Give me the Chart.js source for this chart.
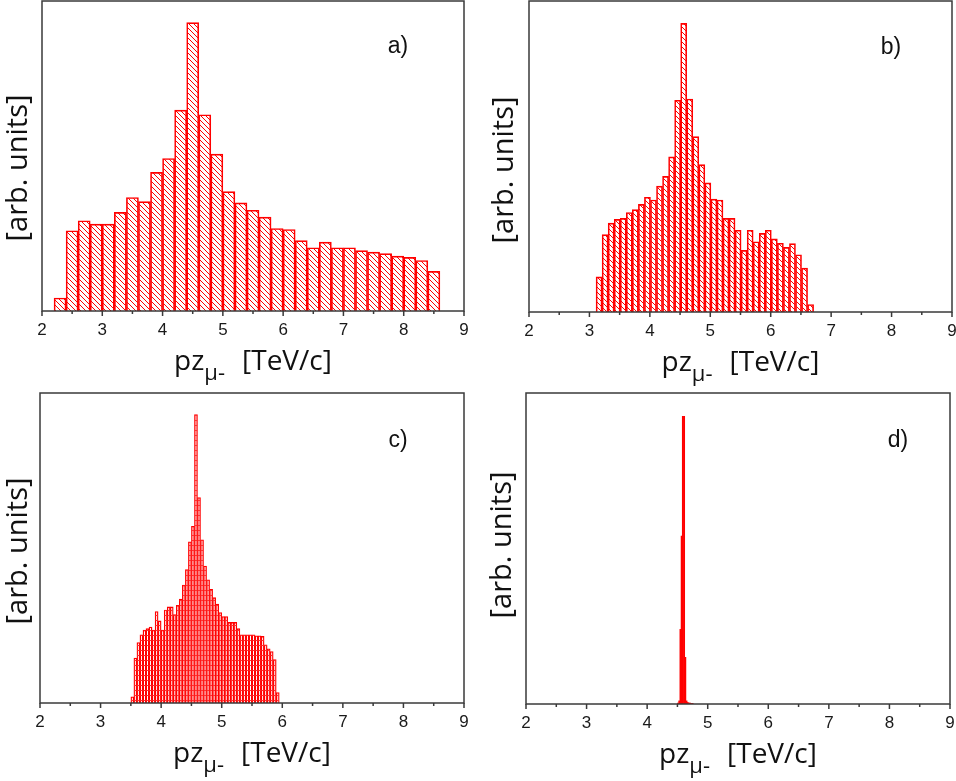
<!DOCTYPE html>
<html>
<head>
<meta charset="utf-8">
<script src="https://cdn.jsdelivr.net/npm/chart.js@4.4.0/dist/chart.umd.min.js"></script>
<style>
  html, body { margin: 0; padding: 0; background: #fff; }
  #wrap { position: relative; width: 956px; height: 781px; }
  #wrap canvas { position: absolute; left: 0; top: 0; }
</style>
</head>
<body>
<div id="wrap">
  <canvas id="chartA" width="956" height="781"></canvas>
  <canvas id="chartB" width="956" height="781"></canvas>
  <canvas id="chartC" width="956" height="781"></canvas>
  <canvas id="chartD" width="956" height="781"></canvas>
</div>
<script>
// pz of the mu- in TeV/c, histogram heights in arbitrary units (axis top = 100)
const xTicks = [2, 3, 4, 5, 6, 7, 8, 9];
const xMinorTicks = [2.5, 3.5, 4.5, 5.5, 6.5, 7.5, 8.5];

// a) bins of 0.2 starting at 2.2
const aStart = 2.2, aWidth = 0.2;
const aCounts = [4.2, 25.9, 29.1, 28.0, 28.0, 31.8, 36.6, 35.3, 44.7, 49.2, 64.8, 93.0,
  63.3, 50.6, 38.5, 34.9, 32.5, 30.3, 26.6, 26.3, 22.7, 20.4, 22.2, 20.4, 20.4, 19.5,
  19.0, 18.5, 17.7, 17.3, 16.3, 12.8];

// b) bins of 0.1 starting at 3.11
const bStart = 3.11, bWidth = 0.1;
const bCounts = [11.3, 24.9, 28.6, 29.8, 30.1, 32.0, 32.9, 34.6, 36.9, 36.0, 40.5, 43.6,
  49.9, 68.1, 92.8, 68.5, 56.4, 47.4, 41.5, 36.3, 36.0, 30.1, 30.1, 26.3, 19.8, 26.3,
  22.6, 25.3, 26.3, 23.5, 22.1, 20.8, 22.0, 18.4, 14.1, 2.4];

// c) bins of 0.05 starting at 3.5
const cStart = 3.5, cWidth = 0.05;
const cCounts = [2, 14.5, 19.5, 22, 23.5, 24, 24.5, 23.5, 29.5, 26.5, 23.5, 30, 31, 31,
  28.5, 31.5, 33.5, 38, 43, 52, 57, 93, 66.3, 52.6, 44.2, 39.7, 36.7, 34, 31.9, 29.2,
  27.9, 27.9, 26, 26, 26, 24, 22, 22, 22, 22, 22, 21.7, 21.7, 21.5, 18.8, 17.5, 16.6,
  14, 3.4];

// d) bins of 0.02 starting at 4.5
const dStart = 4.5, dWidth = 0.02;
const dCounts = [0.3, 1, 24, 54, 92.5, 92.5, 15, 1, 0.5, 0.3, 0.3, 0.2, 0.2];

const yTitle = '[arb. units]';
const xTitleMain = 'pz';
const xTitleSub = 'μ-';
const xTitleUnit = '[TeV/c]';

function binPoints(start, width, counts) {
  return counts.map((c, i) => ({ x: +(start + width * (i + 0.5)).toFixed(4), y: c }));
}

// hatch fills used by the bars
function diagHatch() {
  const t = document.createElement('canvas');
  t.width = 5; t.height = 5;
  const g = t.getContext('2d');
  g.strokeStyle = '#ff0000';
  g.lineWidth = 1;
  g.beginPath();
  g.moveTo(-1, -1); g.lineTo(6, 6);
  g.moveTo(-1, 4); g.lineTo(1, 6);
  g.moveTo(4, -1); g.lineTo(6, 1);
  g.stroke();
  return g.createPattern(t, 'repeat');
}

function rowHatch() {
  const t = document.createElement('canvas');
  t.width = 4; t.height = 5;
  const g = t.getContext('2d');
  g.fillStyle = '#ff3030';
  g.fillRect(0, 0, 4, 1);
  return g.createPattern(t, 'repeat');
}

const panelDecor = {
  id: 'panelDecor',
  afterDraw(chart, args, o) {
    const { ctx, chartArea: ca, scales: { x } } = chart;
    ctx.save();
    ctx.strokeStyle = '#3a3a3a';
    ctx.lineWidth = 1.5;
    ctx.beginPath();
    xTicks.forEach(v => {
      const px = x.getPixelForValue(v);
      ctx.moveTo(px, ca.bottom); ctx.lineTo(px, ca.bottom + 5);
    });
    xMinorTicks.forEach(v => {
      const px = x.getPixelForValue(v);
      ctx.moveTo(px, ca.bottom); ctx.lineTo(px, ca.bottom + 3);
    });
    ctx.stroke();
    ctx.strokeRect(ca.left, ca.top, ca.right - ca.left, ca.bottom - ca.top);

    ctx.fillStyle = '#111';
    ctx.textAlign = 'center';
    ctx.textBaseline = 'middle';
    ctx.font = '23px "Liberation Sans"';
    ctx.fillText(o.label, o.labelX, o.labelY);

    ctx.save();
    ctx.translate(o.yTitleX, o.yTitleY);
    ctx.rotate(-Math.PI / 2);
    ctx.font = '29px "Open Sans"';
    ctx.fillText(yTitle, 0, 0);
    ctx.restore();

    // x title with the muon subscript
    const mainFont = '28px "Open Sans"';
    const subFont = '22px "Open Sans"';
    ctx.textAlign = 'left';
    ctx.textBaseline = 'alphabetic';
    ctx.font = mainFont;
    const w1 = ctx.measureText(xTitleMain).width;
    const w3 = ctx.measureText(xTitleUnit).width;
    ctx.font = subFont;
    const w2 = ctx.measureText(xTitleSub).width;
    const gap = 17;
    const total = w1 + w2 + gap + w3;
    let tx = (ca.left + ca.right) / 2 - total / 2;
    const ty = ca.bottom + 59;
    ctx.font = mainFont;
    ctx.fillText(xTitleMain, tx, ty);
    tx += w1;
    ctx.font = subFont;
    ctx.fillText(xTitleSub, tx, ty + 10);
    tx += w2 + gap;
    ctx.font = mainFont;
    ctx.fillText(xTitleUnit, tx, ty);
    ctx.restore();
  }
};

function makePanel(id, points, fill, borderWidth, area, decor) {
  const xh = 40;
  return new Chart(document.getElementById(id), {
    type: 'bar',
    data: {
      datasets: [{
        data: points,
        backgroundColor: fill,
        borderColor: '#ff0000',
        borderWidth: borderWidth,
        barPercentage: 1,
        categoryPercentage: 1
      }]
    },
    options: {
      responsive: false,
      animation: false,
      layout: {
        padding: { left: area.left, top: area.top, right: 956 - area.right, bottom: 781 - area.bottom - xh }
      },
      plugins: { legend: { display: false }, tooltip: { enabled: false }, panelDecor: decor },
      scales: {
        x: {
          type: 'linear',
          min: 2, max: 9,
          offset: false,
          grid: { display: false, drawTicks: false },
          border: { display: false },
          afterBuildTicks: s => { s.ticks = xTicks.map(v => ({ value: v })); },
          afterFit: s => { s.height = xh; s.paddingLeft = 0; s.paddingRight = 0; },
          ticks: {
            autoSkip: false, maxRotation: 0, padding: 9,
            color: '#1a1a1a',
            font: { family: 'Liberation Sans', size: 17 }
          }
        },
        y: { display: false, min: 0, max: 100 }
      }
    },
    plugins: [panelDecor]
  });
}

makePanel('chartA', binPoints(aStart, aWidth, aCounts), diagHatch(), 1,
  { left: 42, top: 1, right: 464, bottom: 311 },
  { label: 'a)', labelX: 398, labelY: 47, yTitleX: 19, yTitleY: 168 });
makePanel('chartB', binPoints(bStart, bWidth, bCounts), diagHatch(), 1,
  { left: 529, top: 1, right: 952, bottom: 312 },
  { label: 'b)', labelX: 891, labelY: 48, yTitleX: 505, yTitleY: 170 });
makePanel('chartC', binPoints(cStart, cWidth, cCounts), rowHatch(), 0.7,
  { left: 40, top: 393, right: 464, bottom: 703 },
  { label: 'c)', labelX: 398, labelY: 441, yTitleX: 19, yTitleY: 551 });
makePanel('chartD', binPoints(dStart, dWidth, dCounts), '#ff0000', 0,
  { left: 526, top: 393, right: 950, bottom: 704 },
  { label: 'd)', labelX: 898, labelY: 441, yTitleX: 503, yTitleY: 545 });
</script>
</body>
</html>
